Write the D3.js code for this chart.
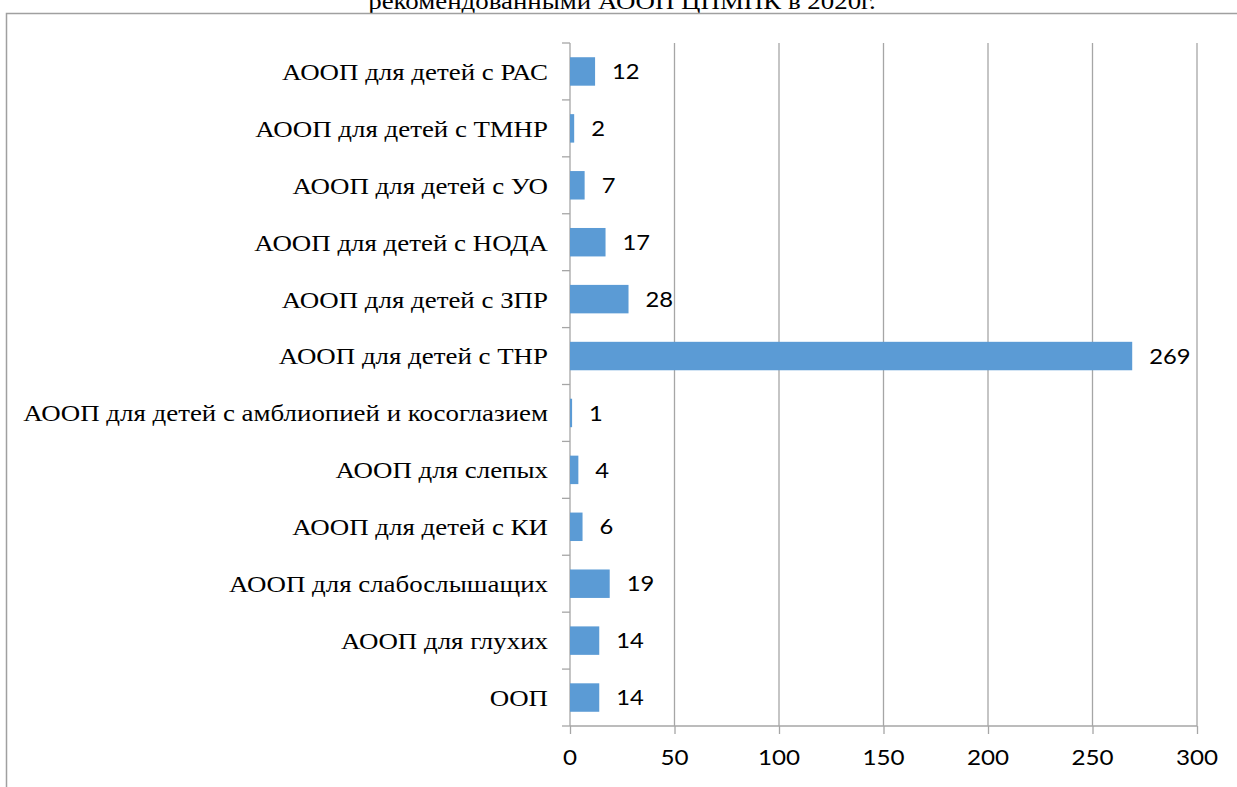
<!DOCTYPE html>
<html><head><meta charset="utf-8">
<script src="https://cdn.jsdelivr.net/npm/d3@7"></script>
<style>body{margin:0;background:#fff}svg{display:block}</style>
</head><body>
<svg id="c" width="1237" height="787"></svg>
<script>
const categories = ["АООП для детей с РАС","АООП для детей с ТМНР","АООП для детей с УО","АООП для детей с НОДА","АООП для детей с ЗПР","АООП для детей с ТНР","АООП для детей с амблиопией и косоглазием","АООП для слепых","АООП для детей с КИ","АООП для слабослышащих","АООП для глухих","ООП"];
const values = [12,2,7,17,28,269,1,4,6,19,14,14];
const ticks = [0,50,100,150,200,250,300];
const titleText = "рекомендованными АООП ЦПМПК в 2020г.";

const svg = d3.select("#c");
const m = {left:570, right:1197, top:43, bottom:726};
const x = d3.scaleLinear().domain([0,300]).range([m.left,m.right]);
const y = d3.scaleBand().domain(categories).range([m.top,m.bottom]).paddingInner(0.5).paddingOuter(0.25);
const grid = "#a6a6a6";
const serif = "'Liberation Serif','Times New Roman',serif";
const sans = "Lato,'Open Sans',sans-serif";

// stretched text helper
function stext(g, tx, ty, txt, font, size, anchor, sx){
  return g.append("text").attr("transform",`translate(${tx},${ty}) scale(${sx},1)`)
    .attr("text-anchor",anchor).attr("dy","0.35em")
    .attr("font-family",font).attr("font-size",size).attr("fill","#000").text(txt);
}
// measure serif stretch from longest label (target width ~525px)
const probe = svg.append("text").attr("font-family",serif).attr("font-size",24).text(categories[6]);
const serifSx = 525 / probe.node().getComputedTextLength();
probe.remove();

const tg = svg.append("g");
stext(tg, 622, 1, titleText, serif, 24, "middle", serifSx);

// chart border
svg.append("rect").attr("x",6.5).attr("y",13.5).attr("width",1300).attr("height",900)
  .attr("fill","none").attr("stroke","#a0a0a0").attr("stroke-width",1.5);

// gridlines
svg.append("g").selectAll("line").data(ticks.slice(1)).join("line")
  .attr("x1",d=>x(d)).attr("x2",d=>x(d)).attr("y1",m.top).attr("y2",m.bottom)
  .attr("stroke",grid).attr("stroke-width",1.3);

// bottom axis
const xa = svg.append("g").attr("transform",`translate(0,${m.bottom})`)
  .call(d3.axisBottom(x).tickValues(ticks).tickSize(8).tickFormat(()=>""));
xa.select(".domain").attr("stroke",grid).attr("stroke-width",1.3).attr("d",`M${m.left},0H${m.right}`);
xa.selectAll(".tick line").attr("stroke",grid).attr("stroke-width",1.3);
const xl = svg.append("g");
ticks.forEach(t=>stext(xl, x(t), 757, String(t), sans, 22, "middle", 1.1));

// left axis
const ya = svg.append("g").attr("transform",`translate(${m.left},0)`);
ya.append("line").attr("x1",0).attr("x2",0).attr("y1",m.top).attr("y2",m.bottom).attr("stroke",grid).attr("stroke-width",1.3);
const bounds = d3.range(categories.length+1).map(i=>m.top + i*(m.bottom-m.top)/categories.length);
ya.selectAll("line.t").data(bounds).join("line").attr("class","t")
  .attr("x1",-8).attr("x2",0).attr("y1",d=>d).attr("y2",d=>d).attr("stroke",grid).attr("stroke-width",1.3);
const yl = svg.append("g");
categories.forEach(c=>stext(yl, 548, y(c)+y.bandwidth()/2, c, serif, 24, "end", serifSx));

// bars
svg.append("g").selectAll("rect").data(values).join("rect")
  .attr("x",x(0)).attr("y",(d,i)=>y(categories[i])).attr("width",d=>x(d)-x(0)).attr("height",y.bandwidth())
  .attr("fill","#5b9bd5");
const vl = svg.append("g");
values.forEach((v,i)=>stext(vl, x(v)+17, y(categories[i])+y.bandwidth()/2, String(v), sans, 22, "start", 1.08));
</script>
</body></html>
